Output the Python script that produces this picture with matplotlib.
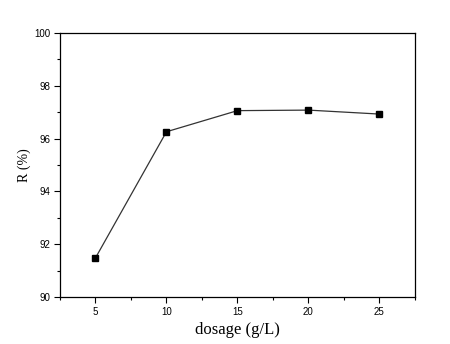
import matplotlib
matplotlib.use("Agg")
import matplotlib.pyplot as plt
from matplotlib.ticker import MultipleLocator

dosage = [5, 10, 15, 20, 25]
removal = [91.48, 96.26, 97.06, 97.08, 96.93]
x_label = "dosage (g/L)"
y_label = "R (%)"

fig = plt.figure(figsize=(4.5, 3.44), dpi=100)
ax = fig.add_axes([0.1333, 0.1366, 0.7887, 0.7674])
ax.plot(dosage, removal, color="#333333", lw=0.9, marker="s", ms=4.5,
        mfc="black", mec="black")
ax.set_xlim(2.5, 27.5)
ax.set_ylim(90, 100)
ax.xaxis.set_major_locator(MultipleLocator(5))
ax.xaxis.set_minor_locator(MultipleLocator(2.5))
ax.yaxis.set_major_locator(MultipleLocator(2))
ax.yaxis.set_minor_locator(MultipleLocator(1))
ax.tick_params(which="both", direction="out", top=False, right=False,
               labelsize=7, width=0.8)
ax.tick_params(which="major", length=4, pad=3)
ax.tick_params(which="minor", length=2)
for s in ax.spines.values():
    s.set_linewidth(0.9)
for lab in ax.get_xticklabels() + ax.get_yticklabels():
    lab.set_fontfamily("Liberation Sans")
ax.set_xlabel(x_label, fontsize=12, family="Liberation Serif", labelpad=4)
ax.set_ylabel(y_label, fontsize=10, family="Liberation Serif", labelpad=2)
fig.savefig("out.png", dpi=100)
